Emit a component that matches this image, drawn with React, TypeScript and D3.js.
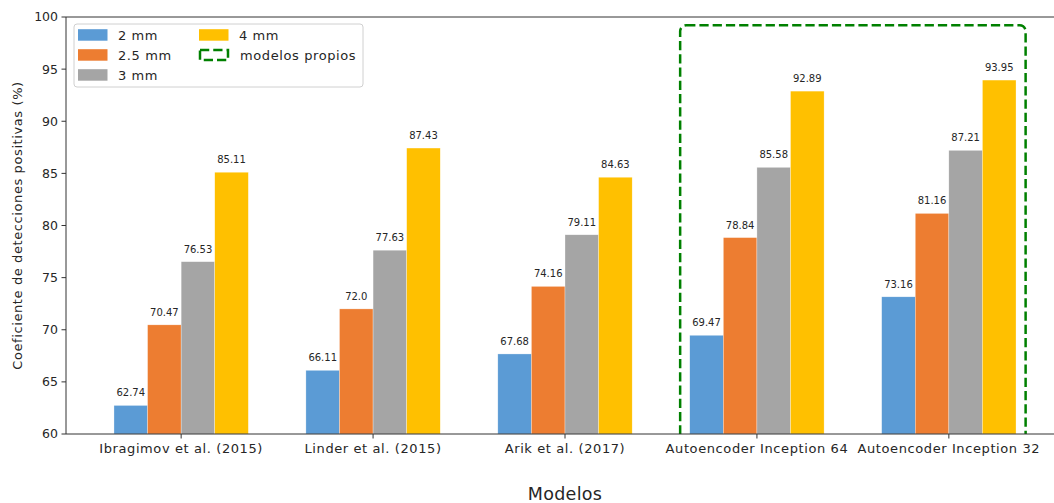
import React from "react";
import * as d3 from "d3";

const categories = [
  "Ibragimov et al. (2015)",
  "Linder et al. (2015)",
  "Arik et al. (2017)",
  "Autoencoder Inception 64",
  "Autoencoder Inception 32",
];
const seriesNames = ["2 mm", "2.5 mm", "3 mm", "4 mm"];
const values2mm = [62.74, 66.11, 67.68, 69.47, 73.16];
const values25mm = [70.47, 72.0, 74.16, 78.84, 81.16];
const values3mm = [76.53, 77.63, 79.11, 85.58, 87.21];
const values4mm = [85.11, 87.43, 84.63, 92.89, 93.95];
const seriesValues = [values2mm, values25mm, values3mm, values4mm];
const colors = ["#5B9BD5", "#ED7D31", "#A5A5A5", "#FFC000"];
const yTicks = [60, 65, 70, 75, 80, 85, 90, 95, 100];
// highlighted region around own models, in data units
const ownModelsBox = { x0: 2.6, x1: 4.4, y0: 58, y1: 99.2 };

const W = 1054;
const H = 503;
const FONT = "DejaVu Sans, sans-serif";
const LS = 0.6; // letter spacing for word labels

const fmt = (v: number) => (Number.isInteger(v) ? v.toFixed(1) : String(v));

export default function App() {
  const left = 66;
  const right = 1064;
  const top = 17;
  const bottom = 434;
  const x = d3.scaleLinear().domain([-0.6, 4.6]).range([left, right]);
  const y = d3.scaleLinear().domain([60, 100]).range([bottom, top]);
  const barW = 0.175;
  const unit = x(1) - x(0);

  const bx0 = x(ownModelsBox.x0);
  const bx1 = x(ownModelsBox.x1);
  const by0 = y(ownModelsBox.y1);
  const by1 = y(ownModelsBox.y0);

  return (
    <svg
      width={W}
      height={H}
      style={{ position: "absolute", left: 0, top: 0, background: "#fff" }}
      fontFamily={FONT}
    >
      <defs>
        <clipPath id="plotClip">
          <rect x={left} y={top} width={right - left} height={bottom - top} />
        </clipPath>
      </defs>

      {/* bars */}
      {seriesValues.map((vals, s) =>
        vals.map((v, i) => {
          const cx = x(i + (s - 1.5) * barW);
          const w = barW * unit;
          return (
            <g key={`b${s}-${i}`}>
              <rect
                x={cx - w / 2}
                y={y(v)}
                width={w}
                height={y(60) - y(v)}
                fill={colors[s]}
                stroke="#fff"
                strokeWidth={0.5}
                strokeOpacity={0.6}
              />
              <text
                x={cx}
                y={y(v) - 9}
                textAnchor="middle"
                fontSize={10}
                fill="#262626"
              >
                {fmt(v)}
              </text>
            </g>
          );
        })
      )}

      {/* dashed box around own models */}
      <g clipPath="url(#plotClip)">
        <rect
          x={bx0}
          y={by0}
          width={bx1 - bx0}
          height={by1 - by0}
          rx={6}
          ry={6}
          fill="none"
          stroke="#008000"
          strokeWidth={2.5}
          strokeDasharray="9.25,4"
        />
      </g>

      {/* spines */}
      <line x1={left} x2={left} y1={top} y2={bottom} stroke="#333" strokeWidth={1} />
      <line x1={left} x2={right} y1={bottom} y2={bottom} stroke="#333" strokeWidth={1} />
      <line x1={left} x2={right} y1={top} y2={top} stroke="#333" strokeWidth={1} />
      <line x1={right} x2={right} y1={top} y2={bottom} stroke="#333" strokeWidth={1} />

      {/* y axis */}
      {yTicks.map((t) => (
        <g key={`y${t}`}>
          <line x1={left - 4.5} x2={left} y1={y(t)} y2={y(t)} stroke="#333" />
          <text
            x={left - 8}
            y={y(t)}
            dy="0.35em"
            textAnchor="end"
            fontSize={12.5}
            fill="#262626"
          >
            {t}
          </text>
        </g>
      ))}
      <text
        transform={`translate(22,${(top + bottom) / 2}) rotate(-90)`}
        textAnchor="middle"
        fontSize={13}
        letterSpacing={LS}
        fill="#262626"
      >
        Coeficiente de detecciones positivas (%)
      </text>

      {/* x axis */}
      {categories.map((c, i) => (
        <g key={`x${i}`}>
          <line x1={x(i)} x2={x(i)} y1={bottom} y2={bottom + 4.5} stroke="#333" />
          <text
            x={x(i)}
            y={bottom + 19}
            textAnchor="middle"
            fontSize={13}
            letterSpacing={LS}
            fill="#262626"
          >
            {c}
          </text>
        </g>
      ))}
      <text
        x={(left + right) / 2}
        y={500}
        textAnchor="middle"
        fontSize={17.5}
        letterSpacing={0.3}
        fill="#262626"
      >
        Modelos
      </text>

      {/* legend */}
      <g>
        <rect
          x={74}
          y={24}
          width={289}
          height={63}
          rx={3}
          fill="#fff"
          fillOpacity={0.8}
          stroke="#d0d0d0"
        />
        {seriesNames.map((n, s) => {
          const col = s < 3 ? 0 : 1;
          const row = s < 3 ? s : 0;
          const px = col === 0 ? 78 : 199;
          const cy = 35 + row * 20;
          return (
            <g key={`l${s}`}>
              <rect x={px} y={cy - 5.8} width={29.5} height={11.5} fill={colors[s]} />
              <text
                x={px + 40}
                y={cy + 4.5}
                fontSize={13}
                letterSpacing={LS}
                fill="#262626"
              >
                {n}
              </text>
            </g>
          );
        })}
        <rect
          x={200}
          y={50}
          width={28}
          height={10}
          fill="none"
          stroke="#008000"
          strokeWidth={2.5}
          strokeDasharray="9.25,4"
        />
        <text x={240} y={59.5} fontSize={13} letterSpacing={LS} fill="#262626">
          modelos propios
        </text>
      </g>
    </svg>
  );
}
